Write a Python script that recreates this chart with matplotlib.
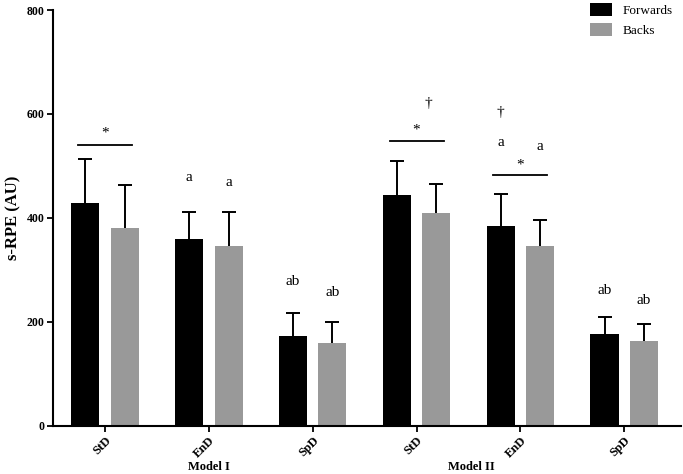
import matplotlib
matplotlib.use("Agg")
import matplotlib.pyplot as plt
import numpy as np

CATEGORIES = ["StD", "EnD", "SpD", "StD", "EnD", "SpD"]
MODELS = ["Model I", "Model II"]
FORWARDS = [429, 360, 174, 444, 384, 176]
FORWARDS_ERR = [84, 52, 43, 66, 62, 34]
BACKS = [381, 347, 160, 409, 347, 163]
BACKS_ERR = [82, 65, 40, 57, 50, 33]

# (category index, side: -1 forwards / +1 backs / 0 centre, y value, text)
ANNOTATIONS = [
    (1, -1, 477, "a"), (1, 1, 469, "a"),
    (2, -1, 277, "ab"), (2, 1, 256, "ab"),
    (3, 0, 569, "*"), (3, 0.6, 621, "\u2020"),
    (4, -1, 546, "a"), (4, 1, 537, "a"), (4, -1, 602, "\u2020"),
    (4, 0, 502, "*"),
    (5, -1, 260, "ab"), (5, 1, 242, "ab"),
    (0, 0, 563, "*"),
]
# significance lines: (category index, y value)
SIG_LINES = [(0, 540), (3, 548), (4, 483)]

plt.rcParams.update({
    "font.family": ["Liberation Serif", "DejaVu Serif"],
    "font.size": 9,
})

fig = plt.figure(figsize=(6.83, 4.74), dpi=100)
ax = fig.add_axes([0.0776, 0.1013, 0.92, 0.8776])

x = np.arange(len(CATEGORIES))
off = 0.19
w = 0.27
ax.bar(x - off, FORWARDS, w, color="black", label="Forwards")
ax.bar(x + off, BACKS, w, color="#999999", label="Backs")

# upward-only error bars with a cap on top
for xs, vals, errs in [(x - off, FORWARDS, FORWARDS_ERR), (x + off, BACKS, BACKS_ERR)]:
    tops = np.array(vals) + np.array(errs)
    ax.vlines(xs, vals, tops, color="black", lw=1.4)
    ax.plot(xs, tops, ls="none", marker="_", ms=10, mew=1.4, color="black")

for i, y in SIG_LINES:
    ax.plot([i - 0.26, i + 0.26], [y, y], color="black", lw=1.3)

for i, side, y, t in ANNOTATIONS:
    ax.text(i + side * off, y, t, ha="center", va="center", fontsize=11)

ax.set_xlim(-0.5, 5.55)
ax.set_ylim(0, 800)
ax.set_yticks([0, 200, 400, 600, 800])
ax.set_xticks(x)
ax.set_xticklabels(CATEGORIES, rotation=45, ha="right", rotation_mode="anchor",
                   fontweight="bold", fontsize=9)
for lab in ax.get_yticklabels():
    lab.set_fontweight("bold")
    lab.set_fontsize(8.5)
ax.set_ylabel("s-RPE (AU)", fontweight="bold", fontsize=12, labelpad=4)
ax.spines["top"].set_visible(False)
ax.spines["right"].set_visible(False)
ax.spines["left"].set_linewidth(1.5)
ax.spines["bottom"].set_linewidth(1.5)
ax.tick_params(width=1.3, length=4, pad=2)

for pos, name in zip([1.0, 3.53], MODELS):
    ax.text(pos, -0.098, name, transform=ax.get_xaxis_transform(),
            ha="center", va="center", fontweight="bold", fontsize=9)

ax.legend(loc="upper right", bbox_to_anchor=(1.005, 1.045), frameon=False,
          fontsize=9.5, handlelength=1.7, handleheight=1.1, labelspacing=0.45,
          handletextpad=0.8)

fig.savefig("out.png", dpi=100)
